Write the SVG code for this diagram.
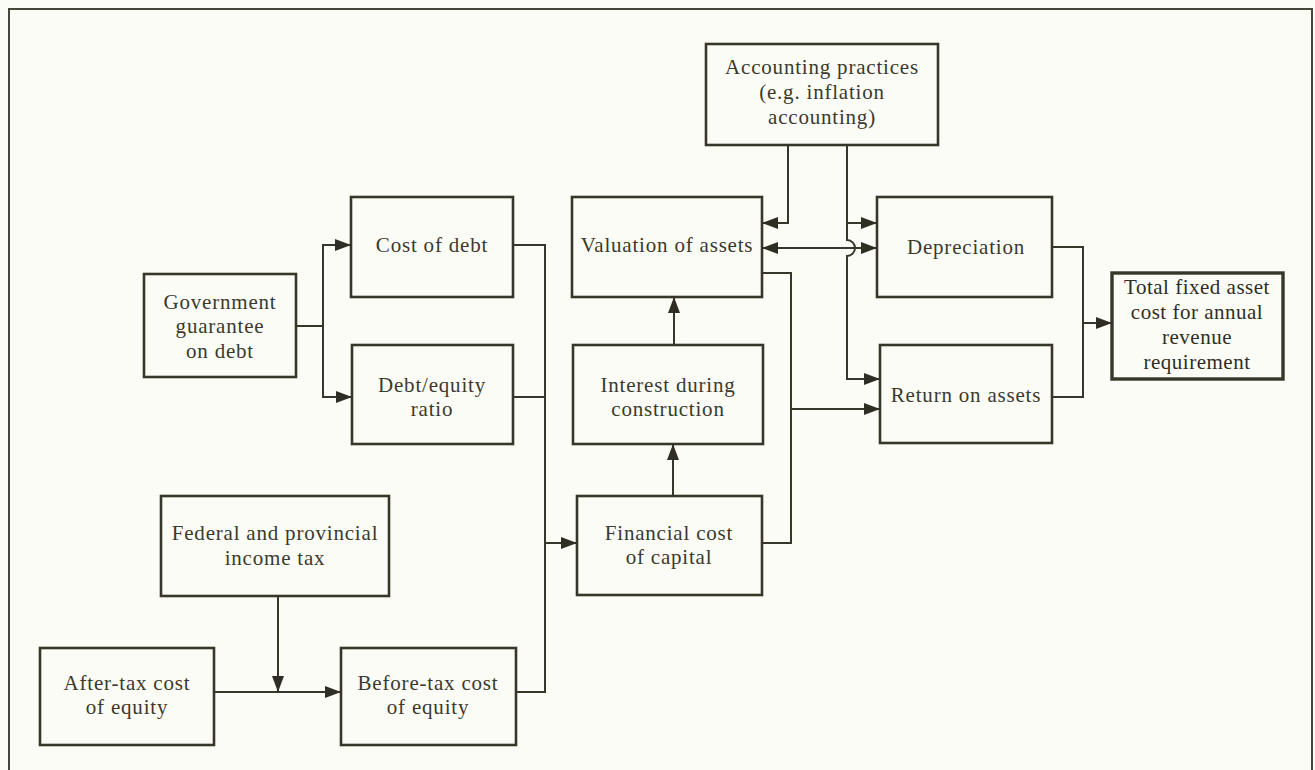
<svg xmlns="http://www.w3.org/2000/svg" width="1315" height="770" viewBox="0 0 1315 770">
<style>
.bg{fill:#fcfcf6}
.box{fill:none;stroke:#37362a;stroke-width:2.6}
.boxb{fill:none;stroke:#37362a;stroke-width:3.4}
.frame{fill:none;stroke:#45453a;stroke-width:2}
.ln{fill:none;stroke:#37362a;stroke-width:2}
.t{font-family:"Liberation Serif","Times New Roman",serif;font-size:21px;letter-spacing:0.8px;fill:#3a392e;text-anchor:middle}
.tb{font-family:"Liberation Serif","Times New Roman",serif;font-size:21px;letter-spacing:0.5px;fill:#2e2d24;text-anchor:middle}
</style>
<defs>
<marker id="ah" viewBox="0 0 16 12" refX="16" refY="6" markerWidth="16" markerHeight="12" markerUnits="userSpaceOnUse" orient="auto-start-reverse">
<path d="M0,0 L16,6 L0,12 z" fill="#2f2e24"/>
</marker>
</defs>
<rect class="bg" x="0" y="0" width="1315" height="770"/>
<path class="frame" d="M9,775 V9 H1312 V775"/>

<g id="accounting"><rect class="box" x="706" y="44" width="232" height="101"/>
<text class="t" x="822" y="74">Accounting practices</text>
<text class="t" x="822" y="99">(e.g. inflation</text>
<text class="t" x="822" y="124">accounting)</text></g>

<g id="government"><rect class="box" x="144" y="274" width="152" height="103"/>
<text class="t" x="220" y="309">Government</text>
<text class="t" x="220" y="333">guarantee</text>
<text class="t" x="220" y="358">on debt</text></g>

<g id="costdebt"><rect class="box" x="351" y="197" width="162" height="100"/>
<text class="t" x="432" y="252">Cost of debt</text></g>

<g id="debtequity"><rect class="box" x="352" y="345" width="161" height="99"/>
<text class="t" x="432" y="392">Debt/equity</text>
<text class="t" x="432" y="416">ratio</text></g>

<g id="valuation"><rect class="box" x="572" y="197" width="190" height="100"/>
<text class="t" x="667" y="252">Valuation of assets</text></g>

<g id="interest"><rect class="box" x="573" y="345" width="190" height="99"/>
<text class="t" x="668" y="392">Interest during</text>
<text class="t" x="668" y="416">construction</text></g>

<g id="financial"><rect class="box" x="577" y="496" width="185" height="99"/>
<text class="t" x="669" y="540">Financial cost</text>
<text class="t" x="669" y="564">of capital</text></g>

<g id="depreciation"><rect class="box" x="877" y="197" width="175" height="100"/>
<text class="t" x="966" y="254">Depreciation</text></g>

<g id="return"><rect class="box" x="880" y="345" width="172" height="98"/>
<text class="t" x="966" y="402">Return on assets</text></g>

<g id="total"><rect class="boxb" x="1112" y="273" width="171" height="106"/>
<text class="tb" x="1197" y="294">Total fixed asset</text>
<text class="tb" x="1197" y="319">cost for annual</text>
<text class="tb" x="1197" y="344">revenue</text>
<text class="tb" x="1197" y="369">requirement</text></g>

<g id="federal"><rect class="box" x="161" y="496" width="228" height="100"/>
<text class="t" x="275" y="540">Federal and provincial</text>
<text class="t" x="275" y="565">income tax</text></g>

<g id="aftertax"><rect class="box" x="40" y="648" width="174" height="97"/>
<text class="t" x="127" y="690">After-tax cost</text>
<text class="t" x="127" y="714">of equity</text></g>

<g id="beforetax"><rect class="box" x="341" y="648" width="175" height="97"/>
<text class="t" x="428" y="690">Before-tax cost</text>
<text class="t" x="428" y="714">of equity</text></g>

<g id="connectors">
<path class="ln" d="M296,326 H323"/>
<path class="ln" d="M323,326 V245 H351" marker-end="url(#ah)"/>
<path class="ln" d="M323,326 V397 H352" marker-end="url(#ah)"/>
<path class="ln" d="M513,245 H545 V692 H516"/>
<path class="ln" d="M513,397 H545"/>
<path class="ln" d="M545,543 H577" marker-end="url(#ah)"/>
<path class="ln" d="M278,596 V692" marker-end="url(#ah)"/>
<path class="ln" d="M214,692 H341" marker-end="url(#ah)"/>
<path class="ln" d="M673,496 V444" marker-end="url(#ah)"/>
<path class="ln" d="M674,345 V297" marker-end="url(#ah)"/>
<path class="ln" d="M762,543 H791 V273 H762"/>
<path class="ln" d="M791,409 H880" marker-end="url(#ah)"/>
<path class="ln" d="M788,145 V223 H762" marker-end="url(#ah)"/>
<path class="ln" d="M847,145 V240 A8,8 0 0 1 847,256 V379 H880" marker-end="url(#ah)"/>
<path class="ln" d="M847,223 H877" marker-end="url(#ah)"/>
<path class="ln" d="M762,248 H877" marker-start="url(#ah)" marker-end="url(#ah)"/>
<path class="ln" d="M1052,247 H1083 V397 H1052"/>
<path class="ln" d="M1083,323 H1112" marker-end="url(#ah)"/>
</g>
</svg>
